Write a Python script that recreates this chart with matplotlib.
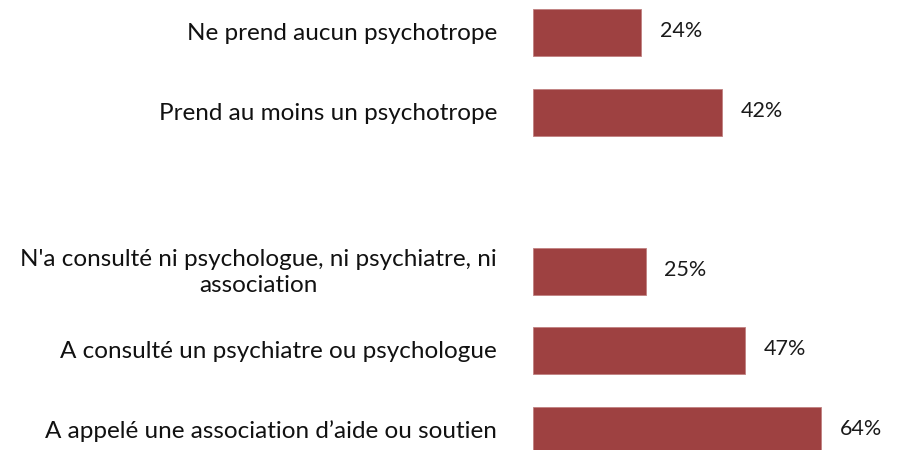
import matplotlib
matplotlib.use("Agg")
import matplotlib.pyplot as plt

categories = [
    "Ne prend aucun psychotrope",
    "Prend au moins un psychotrope",
    "",
    "N'a consulté ni psychologue, ni psychiatre, ni\nassociation",
    "A consulté un psychiatre ou psychologue",
    "A appelé une association d\u2019aide ou soutien",
]
values = [24, 42, None, 25, 47, 64]

bar_color = "#9E4141"
plt.rcParams['font.family'] = ['Lato', 'DejaVu Sans']

fig = plt.figure(figsize=(9.01, 4.5), dpi=100)
ax = fig.add_axes([533 / 901, 0, 360 / 901, 1])

for i, (cat, val) in enumerate(zip(categories, values)):
    if val is None:
        continue
    ax.barh(i, val, height=0.59, color=bar_color, edgecolor="#C08080", linewidth=0.6)
    ax.annotate(f"{val}%", xy=(val, i), xytext=(13.5, 1), textcoords="offset points",
                ha="left", va="center", fontsize=15.5, color="#1a1a1a")
    ax.annotate(cat, xy=(0, i), xytext=(-26, -1), textcoords="offset points",
                ha="right", va="center", multialignment="center", linespacing=1.3,
                fontsize=17.5, color="#111111", annotation_clip=False)

ax.set_xlim(0, 80)
ax.set_ylim(5.25, -0.409)
ax.axis("off")

fig.savefig("out.png", dpi=100)
